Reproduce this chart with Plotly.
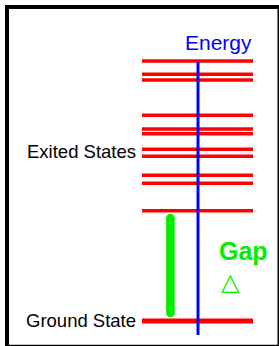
import plotly.graph_objects as go

# Energy levels (arbitrary energy units, ground state = 0)
excited_levels = [110.3, 137.7, 145.7, 164.7, 171.7, 187.3, 192, 205.7, 241, 246.7, 260]
ground_level = [0]
level_x = [142, 253]          # horizontal extent of level bars
axis_x = 198                  # energy axis position
axis_range = [-14, 259]
gap_x = 170.4
gap_range = [8, 103]

fig = go.Figure()

# excited states
xs, ys = [], []
for e in excited_levels:
    xs += [level_x[0], level_x[1], None]
    ys += [e, e, None]
fig.add_trace(go.Scatter(x=xs, y=ys, mode="lines",
                         line=dict(color="#ff0000", width=3.6), hoverinfo="skip"))
# ground state
fig.add_trace(go.Scatter(x=level_x, y=ground_level * 2, mode="lines",
                         line=dict(color="#ff0000", width=5), hoverinfo="skip"))
# energy axis
fig.add_trace(go.Scatter(x=[axis_x, axis_x], y=axis_range, mode="lines",
                         line=dict(color="#0000ff", width=3), hoverinfo="skip"))
# gap bar
fig.add_trace(go.Scatter(x=[gap_x, gap_x], y=gap_range, mode="lines+markers",
                         line=dict(color="#00ee00", width=8.5),
                         marker=dict(color="#00ee00", size=8.5, line=dict(width=0)),
                         hoverinfo="skip"))

font = "Liberation Sans, Arial, sans-serif"
fig.add_annotation(x=218, y=279, text="Energy", showarrow=False,
                   font=dict(family=font, size=21, color="#0000ff"),
                   xanchor="center", yanchor="middle")
fig.add_annotation(x=138, y=170, text="Exited States", showarrow=False,
                   font=dict(family=font, size=18.5, color="#000000"),
                   xanchor="right", yanchor="middle")
fig.add_annotation(x=138, y=1, text="Ground State", showarrow=False,
                   font=dict(family=font, size=18.5, color="#000000"),
                   xanchor="right", yanchor="middle")
fig.add_annotation(x=243, y=70, text="<b>Gap</b>", showarrow=False,
                   font=dict(family=font, size=25, color="#00ee00"),
                   xanchor="center", yanchor="middle")
fig.add_annotation(x=230, y=39, text="△", showarrow=False,
                   font=dict(family="DejaVu Sans, sans-serif", size=24, color="#00ee00"),
                   xanchor="center", yanchor="middle")

# frame
fig.add_shape(type="rect", xref="paper", yref="paper",
              x0=7/279, x1=279.5/279, y0=(346-346.8)/346, y1=(346-7)/346,
              line=dict(color="#000000", width=4), fillcolor="rgba(0,0,0,0)")

fig.update_layout(
    width=279, height=346, margin=dict(l=0, r=0, t=0, b=0),
    paper_bgcolor="white", plot_bgcolor="white", showlegend=False,
    xaxis=dict(range=[0, 279], visible=False, fixedrange=True),
    yaxis=dict(range=[-25, 321], visible=False, fixedrange=True),
)

fig.write_html("out.html", config={"displayModeBar": False},
               post_script="document.body.style.margin='0';document.body.style.overflow='hidden';")
